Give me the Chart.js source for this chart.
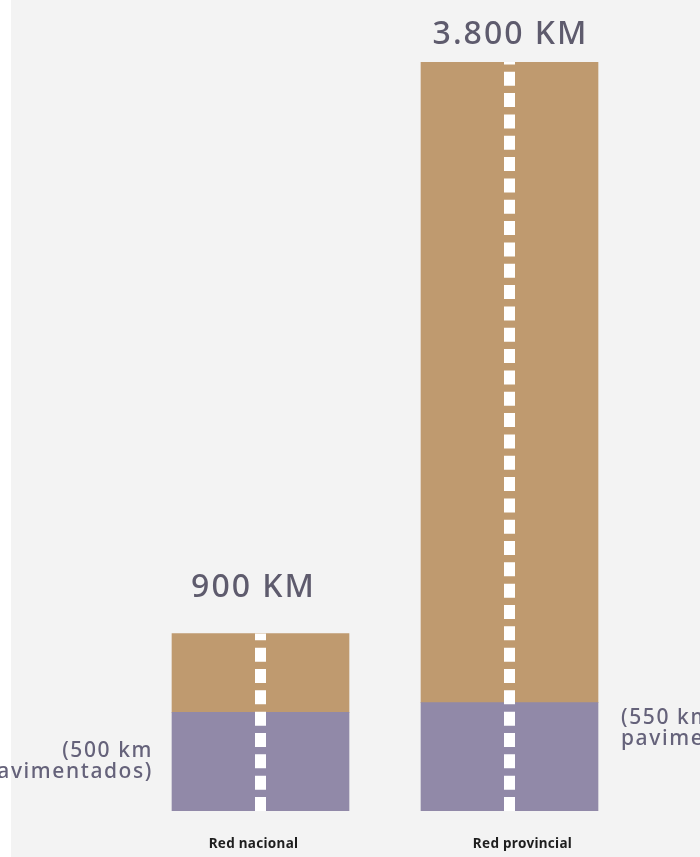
<!DOCTYPE html>
<html>
<head>
<meta charset="utf-8">
<script src="https://cdn.jsdelivr.net/npm/chart.js@4/dist/chart.umd.min.js"></script>
<style>
  html, body { margin: 0; padding: 0; background: #ffffff; }
  #wrap { position: absolute; left: 0; top: 0; width: 700px; height: 857px; }
  #panel { position: absolute; left: 11px; top: 0; width: 689px; height: 857px; background: #f3f3f3; }
  canvas { position: absolute; left: 0; top: 0; }
</style>
</head>
<body>
<div id="wrap">
  <div id="panel"></div>
  <canvas id="chart-roads" width="700" height="857"></canvas>
</div>
<script>
// ==========================
// DATA
// ==========================
const categories = ["Red nacional", "Red provincial"];
const pavedKm = [500, 550];
const unpavedKm = [400, 3250];
const totalKm = [900, 3800];
const totalLabels = ["900 KM", "3.800 KM"];
const pavedNotes = [["(500 km", "pavimentados)"], ["(550 km", "pavimentados)"]];

const TAN = "#bf9a6f";
const PURPLE = "#9189a8";
const LABEL_COLOR = "#5e5b6d";

// ---------- ROAD DASHES + TEXT ----------
const roadPlugin = {
  id: "roadPlugin",
  afterDatasetsDraw(chart) {
    const ctx = chart.ctx;
    const y = chart.scales.y;
    const bars = chart.getDatasetMeta(0).data;
    const base = y.getPixelForValue(0);

    ctx.save();
    bars.forEach((bar, i) => {
      const top = y.getPixelForValue(totalKm[i]);
      const half = bar.width / 2;

      // dashed centre line, starting from the bottom
      ctx.strokeStyle = "#ffffff";
      ctx.lineWidth = 11;
      ctx.lineCap = "butt";
      ctx.setLineDash([14, 7.33]);
      ctx.beginPath();
      ctx.moveTo(bar.x, base);
      ctx.lineTo(bar.x, top);
      ctx.stroke();
      ctx.setLineDash([]);

      // total above the bar
      ctx.fillStyle = LABEL_COLOR;
      ctx.letterSpacing = "2px";
      ctx.font = "500 32px 'Noto Sans'";
      ctx.textAlign = "center";
      ctx.textBaseline = "alphabetic";
      if (i === 0) {
        ctx.fillText(totalLabels[i], bar.x - 7, top - 37);
      } else {
        ctx.fillText(totalLabels[i], bar.x + 1, top - 18);
      }

      // paved note
      const pavedTop = y.getPixelForValue(pavedKm[i]);
      ctx.fillStyle = "#65627a";
      ctx.letterSpacing = "1.6px";
      ctx.font = "500 21px 'Noto Sans'";
      if (i === 0) {
        ctx.textAlign = "right";
        ctx.fillText(pavedNotes[i][0], bar.x - half - 19, pavedTop + 45);
        ctx.fillText(pavedNotes[i][1], bar.x - half - 19, pavedTop + 66);
      } else {
        ctx.textAlign = "left";
        ctx.fillText(pavedNotes[i][0], bar.x + half + 23, pavedTop + 21);
        ctx.fillText(pavedNotes[i][1], bar.x + half + 23, pavedTop + 42);
      }

      // category name under the bar
      ctx.fillStyle = "#1e1e1e";
      ctx.letterSpacing = "0.3px";
      ctx.font = "bold 13.5px 'Noto Sans'";
      ctx.textAlign = "center";
      const catShift = i === 0 ? -7 : 13;
      ctx.fillText(categories[i], bar.x + catShift, base + 37);
    });
    ctx.restore();
  }
};

// ==========================
// CHART
// ==========================
new Chart(document.getElementById("chart-roads"), {
  type: "bar",
  data: {
    labels: categories,
    datasets: [
      { label: "Pavimentados", data: pavedKm, backgroundColor: PURPLE, barThickness: 177 },
      { label: "Sin pavimentar", data: unpavedKm, backgroundColor: TAN, barThickness: 177 }
    ]
  },
  options: {
    responsive: false,
    animation: false,
    layout: { padding: { left: 136, right: 66, top: 62, bottom: 46 } },
    plugins: { legend: { display: false }, tooltip: { enabled: false } },
    scales: {
      x: { stacked: true, display: false },
      y: { stacked: true, display: false, min: 0, max: 3800 }
    }
  },
  plugins: [roadPlugin]
});
</script>
</body>
</html>
